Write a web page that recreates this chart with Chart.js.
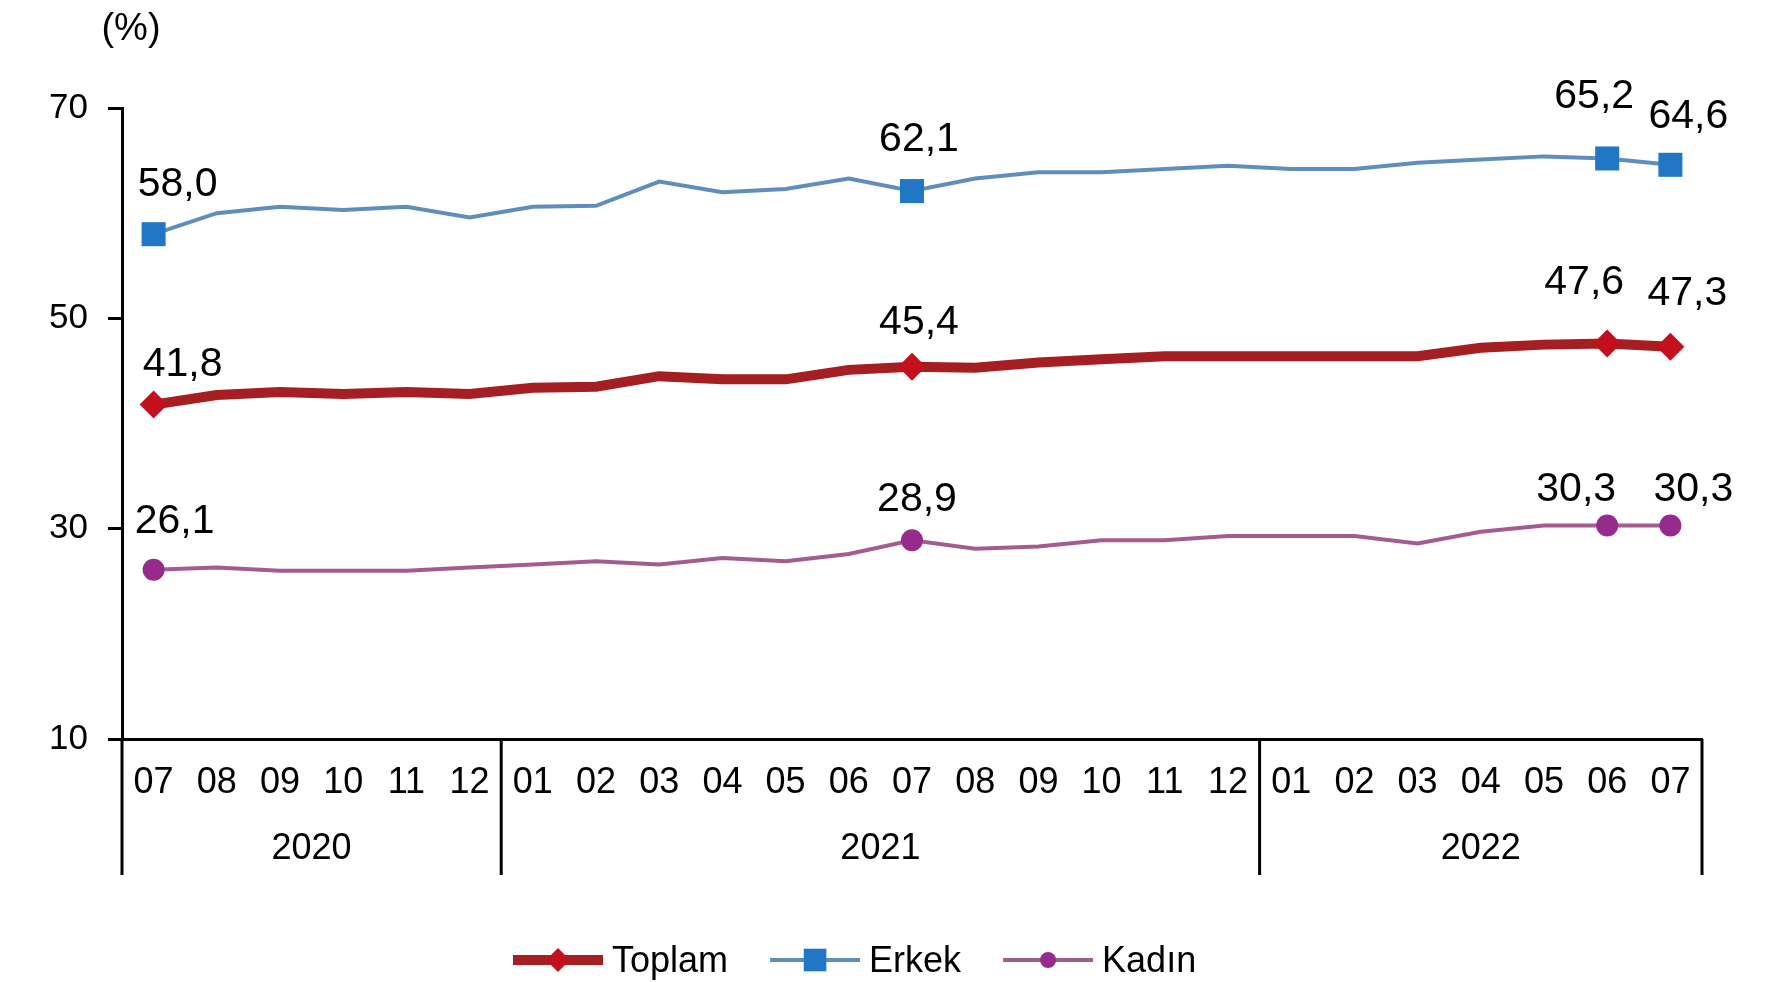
<!DOCTYPE html>
<html>
<head>
<meta charset="utf-8">
<script src="https://cdn.jsdelivr.net/npm/chart.js@4.4.1/dist/chart.umd.min.js"></script>
<style>
  html, body { margin: 0; padding: 0; background: #fff; }
  #kutu { width: 1791px; height: 982px; }
</style>
</head>
<body>
<div id="kutu"><canvas id="grafico" width="1791" height="982"></canvas></div>
<script>
// Aylar ve yillar (07/2020 - 07/2022)
const aylar = ['07', '08', '09', '10', '11', '12',
  '01', '02', '03', '04', '05', '06', '07', '08', '09', '10', '11', '12',
  '01', '02', '03', '04', '05', '06', '07'];
const yillar = ['2020', '2020', '2020', '2020', '2020', '2020',
  '2021', '2021', '2021', '2021', '2021', '2021', '2021', '2021', '2021', '2021', '2021', '2021',
  '2022', '2022', '2022', '2022', '2022', '2022', '2022'];

const toplam = [41.8, 42.7, 43.0, 42.8, 43.0, 42.8, 43.4, 43.5, 44.5, 44.2, 44.2, 45.1, 45.4,
  45.3, 45.8, 46.1, 46.4, 46.4, 46.4, 46.4, 46.4, 47.2, 47.5, 47.6, 47.3];
const erkek = [58.0, 60.0, 60.6, 60.3, 60.6, 59.6, 60.6, 60.7, 63.0, 62.0, 62.3, 63.3, 62.1,
  63.3, 63.9, 63.9, 64.2, 64.5, 64.2, 64.2, 64.8, 65.1, 65.4, 65.2, 64.6];
const kadin = [26.1, 26.3, 26.0, 26.0, 26.0, 26.3, 26.6, 26.9, 26.6, 27.2, 26.9, 27.6, 28.9,
  28.1, 28.3, 28.9, 28.9, 29.3, 29.3, 29.3, 28.6, 29.7, 30.3, 30.3, 30.3];

const yEksen = [10, 30, 50, 70];
// etiket ve isaret gosterilen noktalar
const etiketli = [0, 12, 23, 24];

const FONT = "'Liberation Sans', Arial, sans-serif";

// etiket kaydirmalari [dx, dy] (etiketli siraya gore)
const etiketKonum = [
  [[29, -40], [7, -44], [-23, -61], [17, -53]],
  [[24, -50], [7, -51], [-13, -62], [18, -48]],
  [[21, -48], [5, -41], [-31, -36], [23, -36]]
];

function isaretYaricap(r) {
  return function(c) { return etiketli.includes(c.dataIndex) ? r : 0; };
}

const ekstra = {
  id: 'ekstra',
  afterDraw(chart) {
    const ctx = chart.ctx;
    const ca = chart.chartArea;
    const xs = chart.scales.x;
    ctx.save();

    // (%)
    ctx.fillStyle = '#000';
    ctx.font = '38px ' + FONT;
    ctx.textAlign = 'center';
    ctx.textBaseline = 'middle';
    ctx.fillText('(%)', 131, 30);

    // yil ayiraclari
    const alt = ca.bottom + 136;
    const sinirlar = [ca.left];
    for (let i = 1; i < yillar.length; i++) {
      if (yillar[i] !== yillar[i - 1]) {
        sinirlar.push((xs.getPixelForValue(i - 1) + xs.getPixelForValue(i)) / 2);
      }
    }
    sinirlar.push(ca.right);
    ctx.strokeStyle = '#000';
    ctx.lineWidth = 3;
    sinirlar.forEach(function(x) {
      ctx.beginPath();
      ctx.moveTo(x, ca.bottom);
      ctx.lineTo(x, alt);
      ctx.stroke();
    });
    const yilAdlari = yillar.filter(function(y, i) { return i === 0 || y !== yillar[i - 1]; });
    ctx.font = '36px ' + FONT;
    yilAdlari.forEach(function(y, i) {
      ctx.fillText(y, (sinirlar[i] + sinirlar[i + 1]) / 2, ca.bottom + 110);
    });

    // veri etiketleri
    ctx.font = '41px ' + FONT;
    chart.data.datasets.forEach(function(ds, d) {
      const meta = chart.getDatasetMeta(d);
      etiketli.forEach(function(idx, k) {
        const p = meta.data[idx];
        const off = etiketKonum[d][k];
        const metin = ds.data[idx].toFixed(1).replace('.', ',');
        ctx.fillText(metin, p.x + off[0], p.y + off[1]);
      });
    });

    // gosterge
    let x = 513;
    const yLeg = 960;
    ctx.font = '36px ' + FONT;
    ctx.textAlign = 'left';
    chart.data.datasets.forEach(function(ds) {
      ctx.strokeStyle = ds.borderColor;
      ctx.lineWidth = ds.borderWidth;
      ctx.beginPath();
      ctx.moveTo(x, yLeg);
      ctx.lineTo(x + 90, yLeg);
      ctx.stroke();
      ctx.fillStyle = ds.pointBackgroundColor;
      Chart.helpers.drawPoint(ctx, {
        pointStyle: ds.pointStyle, radius: ds.legendRadius, rotation: 0, borderWidth: 0
      }, x + 45, yLeg);
      ctx.fillStyle = '#000';
      ctx.fillText(ds.label, x + 99, yLeg + 2);
      x += 99 + ctx.measureText(ds.label).width + 42;
    });
    ctx.restore();
  }
};

new Chart(document.getElementById('grafico').getContext('2d'), {
  type: 'line',
  data: {
    labels: aylar,
    datasets: [{
      label: 'Toplam',
      data: toplam,
      borderColor: '#A41E22',
      borderWidth: 10,
      pointStyle: 'rectRot',
      pointBackgroundColor: '#C3101C',
      pointBorderWidth: 0,
      pointRadius: isaretYaricap(14),
      legendRadius: 12,
      tension: 0
    }, {
      label: 'Erkek',
      data: erkek,
      borderColor: '#5E8FBC',
      borderWidth: 4,
      pointStyle: 'rect',
      pointBackgroundColor: '#2177C6',
      pointBorderWidth: 0,
      pointRadius: isaretYaricap(17),
      legendRadius: 16,
      tension: 0
    }, {
      label: 'Kadın',
      data: kadin,
      borderColor: '#A25C92',
      borderWidth: 4,
      pointStyle: 'circle',
      pointBackgroundColor: '#972B8C',
      pointBorderWidth: 0,
      pointRadius: isaretYaricap(11),
      legendRadius: 8,
      tension: 0
    }]
  },
  options: {
    responsive: false,
    devicePixelRatio: 1,
    animation: false,
    layout: { padding: { top: 108, right: 89, left: 0, bottom: 0 } },
    plugins: { legend: { display: false }, tooltip: { enabled: false } },
    scales: {
      x: {
        offset: true,
        grid: { display: false, drawTicks: false },
        border: { display: true, color: '#000', width: 3 },
        ticks: {
          color: '#000', font: { family: FONT, size: 36 },
          padding: 22, maxRotation: 0, autoSkip: false
        },
        afterFit: function(s) { s.height = 243; }
      },
      y: {
        min: 10,
        max: 70,
        afterBuildTicks: function(s) { s.ticks = yEksen.map(function(v) { return { value: v }; }); },
        grid: { drawOnChartArea: false, drawTicks: true, tickLength: 14, color: '#000', lineWidth: 3 },
        border: { display: true, color: '#000', width: 3 },
        ticks: { color: '#000', font: { family: FONT, size: 35 }, padding: 20 },
        afterFit: function(s) { s.width = 122; }
      }
    }
  },
  plugins: [ekstra]
});
</script>
</body>
</html>
